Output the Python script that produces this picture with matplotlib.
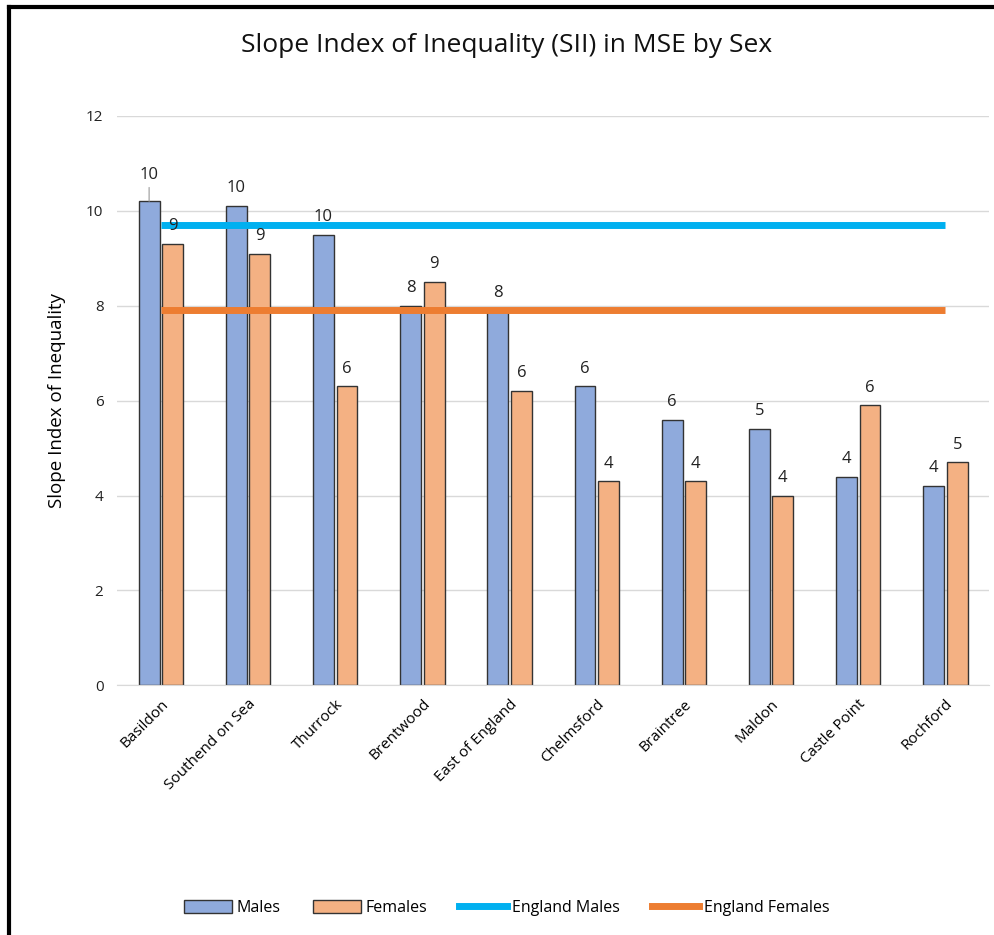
"""
Slope Index of Inequality (SII) in MSE by Sex
"""

import numpy as np
import matplotlib
matplotlib.use("Agg")
import matplotlib.pyplot as plt
from matplotlib.lines import Line2D

plt.rcParams['font.family'] = ['Open Sans', 'DejaVu Sans']

areas = ["Basildon", "Southend on Sea", "Thurrock", "Brentwood", "East of England",
         "Chelmsford", "Braintree", "Maldon", "Castle Point", "Rochford"]
males = [10.2, 10.1, 9.5, 8.0, 7.9, 6.3, 5.6, 5.4, 4.4, 4.2]
females = [9.3, 9.1, 6.3, 8.5, 6.2, 4.3, 4.3, 4.0, 5.9, 4.7]
england_males = 9.7
england_females = 7.9
yticks = [0, 2, 4, 6, 8, 10, 12]

male_col = "#8faadc"
female_col = "#f4b183"
eng_m_col = "#00b0f0"
eng_f_col = "#ed7d31"


def xl_round(v):
    # excel style rounding (half away from zero)
    return str(int(np.floor(v + 0.5)))


fig = plt.figure(figsize=(9.94, 9.35), dpi=100)
ax = fig.add_axes([0.118, 0.267, 0.877, 0.609])

x = np.arange(len(areas))
w = 0.24
off = 0.135
ax.bar(x - off, males, w, color=male_col, edgecolor="#333333", linewidth=1.0, zorder=2)
ax.bar(x + off, females, w, color=female_col, edgecolor="#333333", linewidth=1.0, zorder=2)

ax.plot(x, [england_males] * len(x), color=eng_m_col, lw=5, zorder=3, solid_capstyle="butt")
ax.plot(x, [england_females] * len(x), color=eng_f_col, lw=5, zorder=3, solid_capstyle="butt")

for i, v in enumerate(males):
    if i == 0:
        ax.annotate(xl_round(v), (x[i] - off, v), xytext=(0, 13), textcoords="offset points",
                    ha="center", va="bottom", fontsize=12, color="#222222",
                    arrowprops=dict(arrowstyle="-", color="#999999", lw=0.8, shrinkA=1, shrinkB=0))
    else:
        ax.annotate(xl_round(v), (x[i] - off, v), xytext=(0, 7), textcoords="offset points",
                    ha="center", va="bottom", fontsize=12, color="#222222")
for i, v in enumerate(females):
    ax.annotate(xl_round(v), (x[i] + off, v), xytext=(0, 7), textcoords="offset points",
                ha="center", va="bottom", fontsize=12, color="#222222")

ax.set_xlim(-0.5, len(areas) - 0.5)
ax.set_ylim(0, 12)
ax.set_yticks(yticks)
ax.set_yticklabels([str(t) for t in yticks], fontsize=11, color="#222222")
ax.set_xticks(x)
ax.set_xticklabels(areas, rotation=45, ha="right", rotation_mode="anchor", fontsize=11)
ax.tick_params(axis="both", length=0, pad=10)
ax.tick_params(axis="x", pad=8)
ax.grid(axis="y", color="#d9d9d9", lw=1, zorder=0)
for s in ["top", "right", "left"]:
    ax.spines[s].set_visible(False)
ax.spines["bottom"].set_color("#d9d9d9")
ax.set_ylabel("Slope Index of Inequality", fontsize=13.5, labelpad=14)

fig.text(0.51, 0.951, "Slope Index of Inequality (SII) in MSE by Sex", ha="center", va="center",
         fontsize=19, color="#111111")

handles = [
    plt.Rectangle((0, 0), 1, 1, facecolor=male_col, edgecolor="#333333"),
    plt.Rectangle((0, 0), 1, 1, facecolor=female_col, edgecolor="#333333"),
    Line2D([0], [0], color=eng_m_col, lw=5),
    Line2D([0], [0], color=eng_f_col, lw=5),
]
fig.legend(handles, ["Males", "Females", "England Males", "England Females"],
           loc="center", bbox_to_anchor=(0.51, 0.029), ncol=4, frameon=False,
           fontsize=11.5, handlelength=3.0, handleheight=0.9, columnspacing=2.0, handletextpad=0.3)

# frame around chart (top and left edges visible)
fig.add_artist(Line2D([0.009, 0.009], [0, 0.993], color="black", lw=3, transform=fig.transFigure))
fig.add_artist(Line2D([0.009, 1.0], [0.993, 0.993], color="black", lw=3, transform=fig.transFigure))

fig.savefig("out.png", dpi=100)
